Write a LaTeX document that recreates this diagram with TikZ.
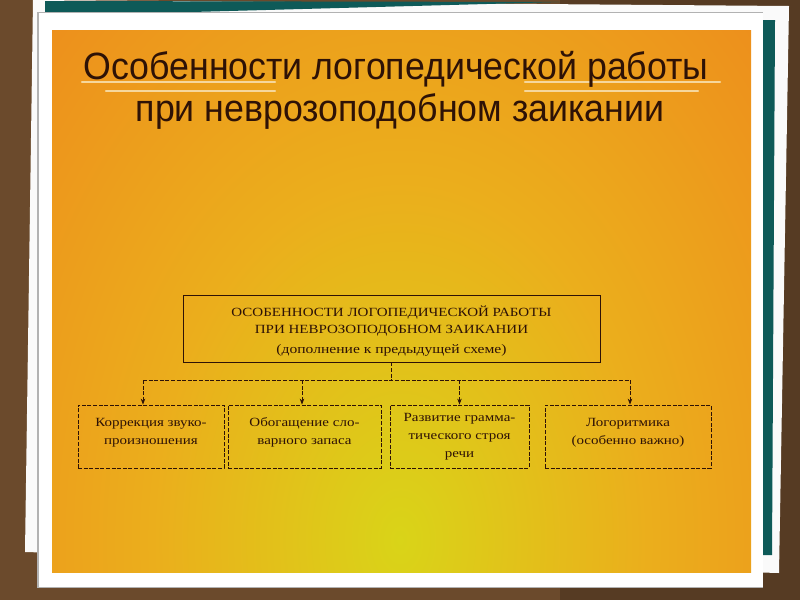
\documentclass[tikz,border=0pt]{standalone}
\usepackage{fontspec}
\setmainfont{Liberation Serif}
\newfontfamily\titlefont[FakeStretch=0.94]{Liberation Sans}
\newfontfamily\boxfont[FakeStretch=1.2]{Liberation Serif}
\usetikzlibrary{arrows.meta}
\definecolor{bgbrown}{HTML}{6B4A2C}
\definecolor{tealc}{HTML}{0E5A58}
\definecolor{orgc}{HTML}{EE8A1C}
\definecolor{midc}{HTML}{EBAE1C}
\definecolor{yelc}{HTML}{D9D418}
\definecolor{inkc}{HTML}{2E1206}
\definecolor{creamc}{HTML}{F6D79C}
\pgfdeclareradialshading{glow}{\pgfpoint{0bp}{0bp}}{color(0bp)=(yelc); color(10bp)=(midc); color(22bp)=(orgc); color(50bp)=(orgc)}
\tikzset{
  sbox/.style={draw=inkc, line width=0.8pt, dash pattern=on 4pt off 1.6pt, inner sep=2pt, align=center, text=inkc, font=\boxfont\fontsize{12.5}{18}\selectfont},
  headbox/.style={draw=inkc, line width=0.9pt, align=center, text=inkc, inner sep=2pt, font=\boxfont\fontsize{12.5}{17}\selectfont},
  link/.style={draw=inkc, line width=0.8pt, dash pattern=on 4pt off 1.6pt},
  tip/.style={-{Stealth[length=6pt,width=4.5pt]}},
  uline/.style={draw=creamc, line width=2.4pt, line cap=round},
  ttl/.style={text=inkc, inner sep=0pt, font=\titlefont\fontsize{38}{38}\selectfont}
}
\begin{document}
\begin{tikzpicture}[x=1pt,y=-1pt]
\useasboundingbox (0,0) rectangle (800,600);
% background
\fill[bgbrown] (0,0) rectangle (800,600);
\fill[bgbrown!80!black] (560,0) rectangle (800,600);
% back card
\fill[white!96!gray] (33,0) -- (789,6) -- (779,573) -- (25,552) -- cycle;
\fill[tealc] (45,1) -- (560,2) -- (45,16) -- cycle;
\fill[tealc] (762,20) -- (775,20) -- (772,555) -- (762,555) -- cycle;
% front card
\fill[gray!60] (37,12) rectangle (763,588);
\fill[white] (39,13) rectangle (763,587);
% orange panel with glow
\begin{scope}
\clip (52,30) rectangle (751,572);
\fill[orgc] (52,30) rectangle (751,572);
\shade[shading=glow] (400,540) ellipse [x radius=620, y radius=900];
\end{scope}
% title
\draw[uline] (82,82) -- (275,82);
\draw[uline] (106,91) -- (275,91);
\draw[uline] (525,82) -- (720,82);
\draw[uline] (525,91) -- (698,91);
\node[ttl, anchor=base] (t1) at (396,79) {Особенности логопедической работы};
\node[ttl, anchor=base] (t2) at (400,121) {при неврозоподобном заикании};
% diagram
\node[headbox, minimum width=417pt, minimum height=67pt] (top) at (391.5,328.5) {};
\node[headbox, draw=none, anchor=center] (toptext) at (391.5,331)
 {ОСОБЕННОСТИ ЛОГОПЕДИЧЕСКОЙ РАБОТЫ\\
  ПРИ НЕВРОЗОПОДОБНОМ ЗАИКАНИИ\\[3pt]
  {\fontsize{13}{15}\selectfont (дополнение к предыдущей схеме)}};
\node[sbox, minimum width=146pt, minimum height=63pt] (b1) at (151,436.5) {Коррекция звуко-\\произношения\vphantom{Кр}\\[-8pt]};
\node[sbox, minimum width=153pt, minimum height=63pt] (b2) at (304.5,436.5) {Обогащение сло-\\варного запаса\\[-8pt]};
\node[sbox, minimum width=139pt, minimum height=63pt] (b3) at (459.5,436.5) {Развитие грамма-\\тического строя\\речи};
\node[sbox, minimum width=166pt, minimum height=63pt] (b4) at (628,436.5) {Логоритмика\\(особенно важно)\\[-8pt]};
\coordinate (hub) at (391.5,380);
\draw[link] (top.south) -- (hub);
\draw[link] ([xshift=-8pt]b1.north |- hub) -- ([xshift=2pt]b4.north |- hub);
\draw[link, tip] ([xshift=-8pt]b1.north |- hub) -- ([xshift=-8pt]b1.north);
\draw[link, tip] ([xshift=-2.5pt]b2.north |- hub) -- ([xshift=-2.5pt]b2.north);
\draw[link, tip] (b3.north |- hub) -- (b3.north);
\draw[link, tip] ([xshift=2pt]b4.north |- hub) -- ([xshift=2pt]b4.north);
\end{tikzpicture}
\end{document}
